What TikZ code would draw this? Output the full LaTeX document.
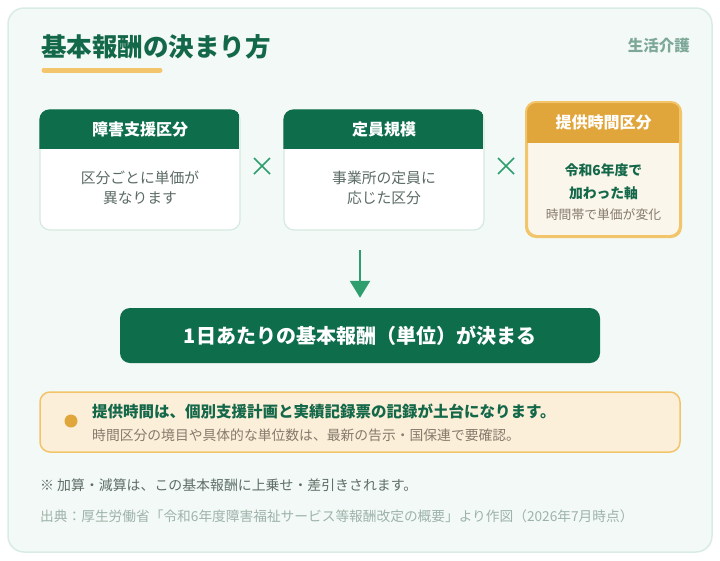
\documentclass[tikz,border=0pt]{standalone}
\usepackage{fontspec}
\setmainfont{Noto Sans CJK JP}
\usetikzlibrary{arrows.meta,positioning}

\definecolor{pagebg}{HTML}{F3F9F6}
\definecolor{pageline}{HTML}{D9ECE4}
\definecolor{deepgreen}{HTML}{0E6E4B}
\definecolor{titlegreen}{HTML}{14684A}
\definecolor{barorange}{HTML}{F3C66E}
\definecolor{taggray}{HTML}{7DA898}
\definecolor{bodygray}{HTML}{5B6B64}
\definecolor{cardline}{HTML}{D5EAE0}
\definecolor{crossgreen}{HTML}{2F9E6F}
\definecolor{hdorange}{HTML}{E0A53B}
\definecolor{lineorange}{HTML}{F2C56B}
\definecolor{creambody}{HTML}{FBF6EB}
\definecolor{notefill}{HTML}{FCEFD9}
\definecolor{notebrown}{HTML}{857A6B}
\definecolor{footgray}{HTML}{5E6E67}
\definecolor{srcgray}{HTML}{9DB3A9}

\tikzset{
  card/.style={draw=cardline, line width=1.2pt, fill=white, rounded corners=10pt,
    minimum width=200pt, minimum height=120pt, inner sep=0pt},
  newcard/.style={draw=lineorange, line width=2pt, fill=creambody, rounded corners=10pt,
    minimum width=153pt, minimum height=133pt, inner sep=0pt},
  hdtext/.style={text=white, font=\fontsize{16}{19}\selectfont\bfseries},
  bodytext/.style={text=bodygray, align=center, font=\fontsize{14.8}{20}\selectfont},
  cross/.style={crossgreen, line width=1.6pt},
}

\begin{document}
\begin{tikzpicture}[x=1pt,y=-1pt]
  \useasboundingbox (0,0) rectangle (720,560);
  % background card
  \draw[draw=pageline, line width=1.5pt, fill=pagebg, rounded corners=16pt] (8,8) rectangle (712,552);

  % title
  \node[anchor=west, text=titlegreen, font=\fontsize{25.5}{28}\selectfont\bfseries, inner sep=0pt] (title) at (41,47) {基本報酬の決まり方};
  \draw[barorange, line width=5pt, line cap=round] (44,70) -- (160,70);
  \node[anchor=east, text=taggray, font=\fontsize{15.5}{18}\selectfont\bfseries, inner sep=0pt] (tag) at (690,46) {生活介護};

  % three axes
  \node[card] (kubun) at (140,170) {};
  \begin{scope}
    \clip[rounded corners=10pt] (kubun.north west) rectangle (kubun.south east);
    \fill[deepgreen] (kubun.north west) rectangle ++(200,40);
  \end{scope}
  \node[hdtext] (kubunhd) at ([yshift=-20pt]kubun.north) {障害支援区分};
  \node[bodytext] (kubuntx) at (140,188) {区分ごとに単価が\\異なります};

  \node[card] (teiin) at (384,170) {};
  \begin{scope}
    \clip[rounded corners=10pt] (teiin.north west) rectangle (teiin.south east);
    \fill[deepgreen] (teiin.north west) rectangle ++(200,40);
  \end{scope}
  \node[hdtext] (teiinhd) at ([yshift=-20pt]teiin.north) {定員規模};
  \node[bodytext] (teiintx) at (384,188) {事業所の定員に\\応じた区分};

  \node[newcard] (jikan) at (603.5,169.5) {};
  \begin{scope}
    \clip[rounded corners=10pt] (jikan.north west) rectangle (jikan.south east);
    \fill[hdorange] (jikan.north west) rectangle ++(153,41);
  \end{scope}
  \draw[lineorange, line width=2pt, rounded corners=10pt] (jikan.north west) rectangle (jikan.south east);
  \node[hdtext] (jikanhd) at ([yshift=-20.5pt]jikan.north) {提供時間区分};
  \node[text=titlegreen, align=center, font=\fontsize{13.8}{23}\selectfont\bfseries] (jikantx) at (603.5,182) {令和6年度で\\加わった軸};
  \node[text=notebrown, font=\fontsize{12.8}{15}\selectfont] (jikansub) at (603.5,215) {時間帯で単価が変化};

  % crosses
  \draw[cross] (254,158) -- ++(16,16) (254,174) -- ++(16,-16);
  \draw[cross] (498,158) -- ++(16,16) (498,174) -- ++(16,-16);

  % result
  \node[fill=deepgreen, rounded corners=10pt, minimum width=480pt, minimum height=55pt,
        text=white, font=\fontsize{20}{23}\selectfont\bfseries] (kekka) at (360,335.5) {1日あたりの基本報酬（単位）が決まる};
  \coordinate (arrtop) at (360,250);
  \draw[crossgreen, line width=2.5pt, -{Triangle[width=20pt,length=17pt]}] (arrtop) -- ([yshift=10pt]kekka.north);

  % note
  \node[draw=lineorange, line width=1.5pt, fill=notefill, rounded corners=10pt,
        minimum width=640pt, minimum height=60pt] (note) at (360,422) {};
  \fill[hdorange] (71,421) circle (6.5pt);
  \node[anchor=west, inner sep=0pt, text=titlegreen, font=\fontsize{15.5}{18}\selectfont\bfseries] (notehd) at (92,411) {提供時間は、個別支援計画と実績記録票の記録が土台になります。};
  \node[anchor=west, inner sep=0pt, text=notebrown, font=\fontsize{13.8}{16}\selectfont] (notetx) at (92,435) {時間区分の境目や具体的な単位数は、最新の告示・国保連で要確認。};

  % footnotes
  \node[anchor=west, inner sep=0pt, text=footgray, font=\fontsize{13.9}{16}\selectfont] (kasan) at (40,485) {※ 加算・減算は、この基本報酬に上乗せ・差引きされます。};
  \node[anchor=west, inner sep=0pt, text=srcgray, font=\fontsize{13.7}{16}\selectfont] (source) at (40,516) {出典：厚生労働省「令和6年度障害福祉サービス等報酬改定の概要」より作図（2026年7月時点）};
\end{tikzpicture}
\end{document}
